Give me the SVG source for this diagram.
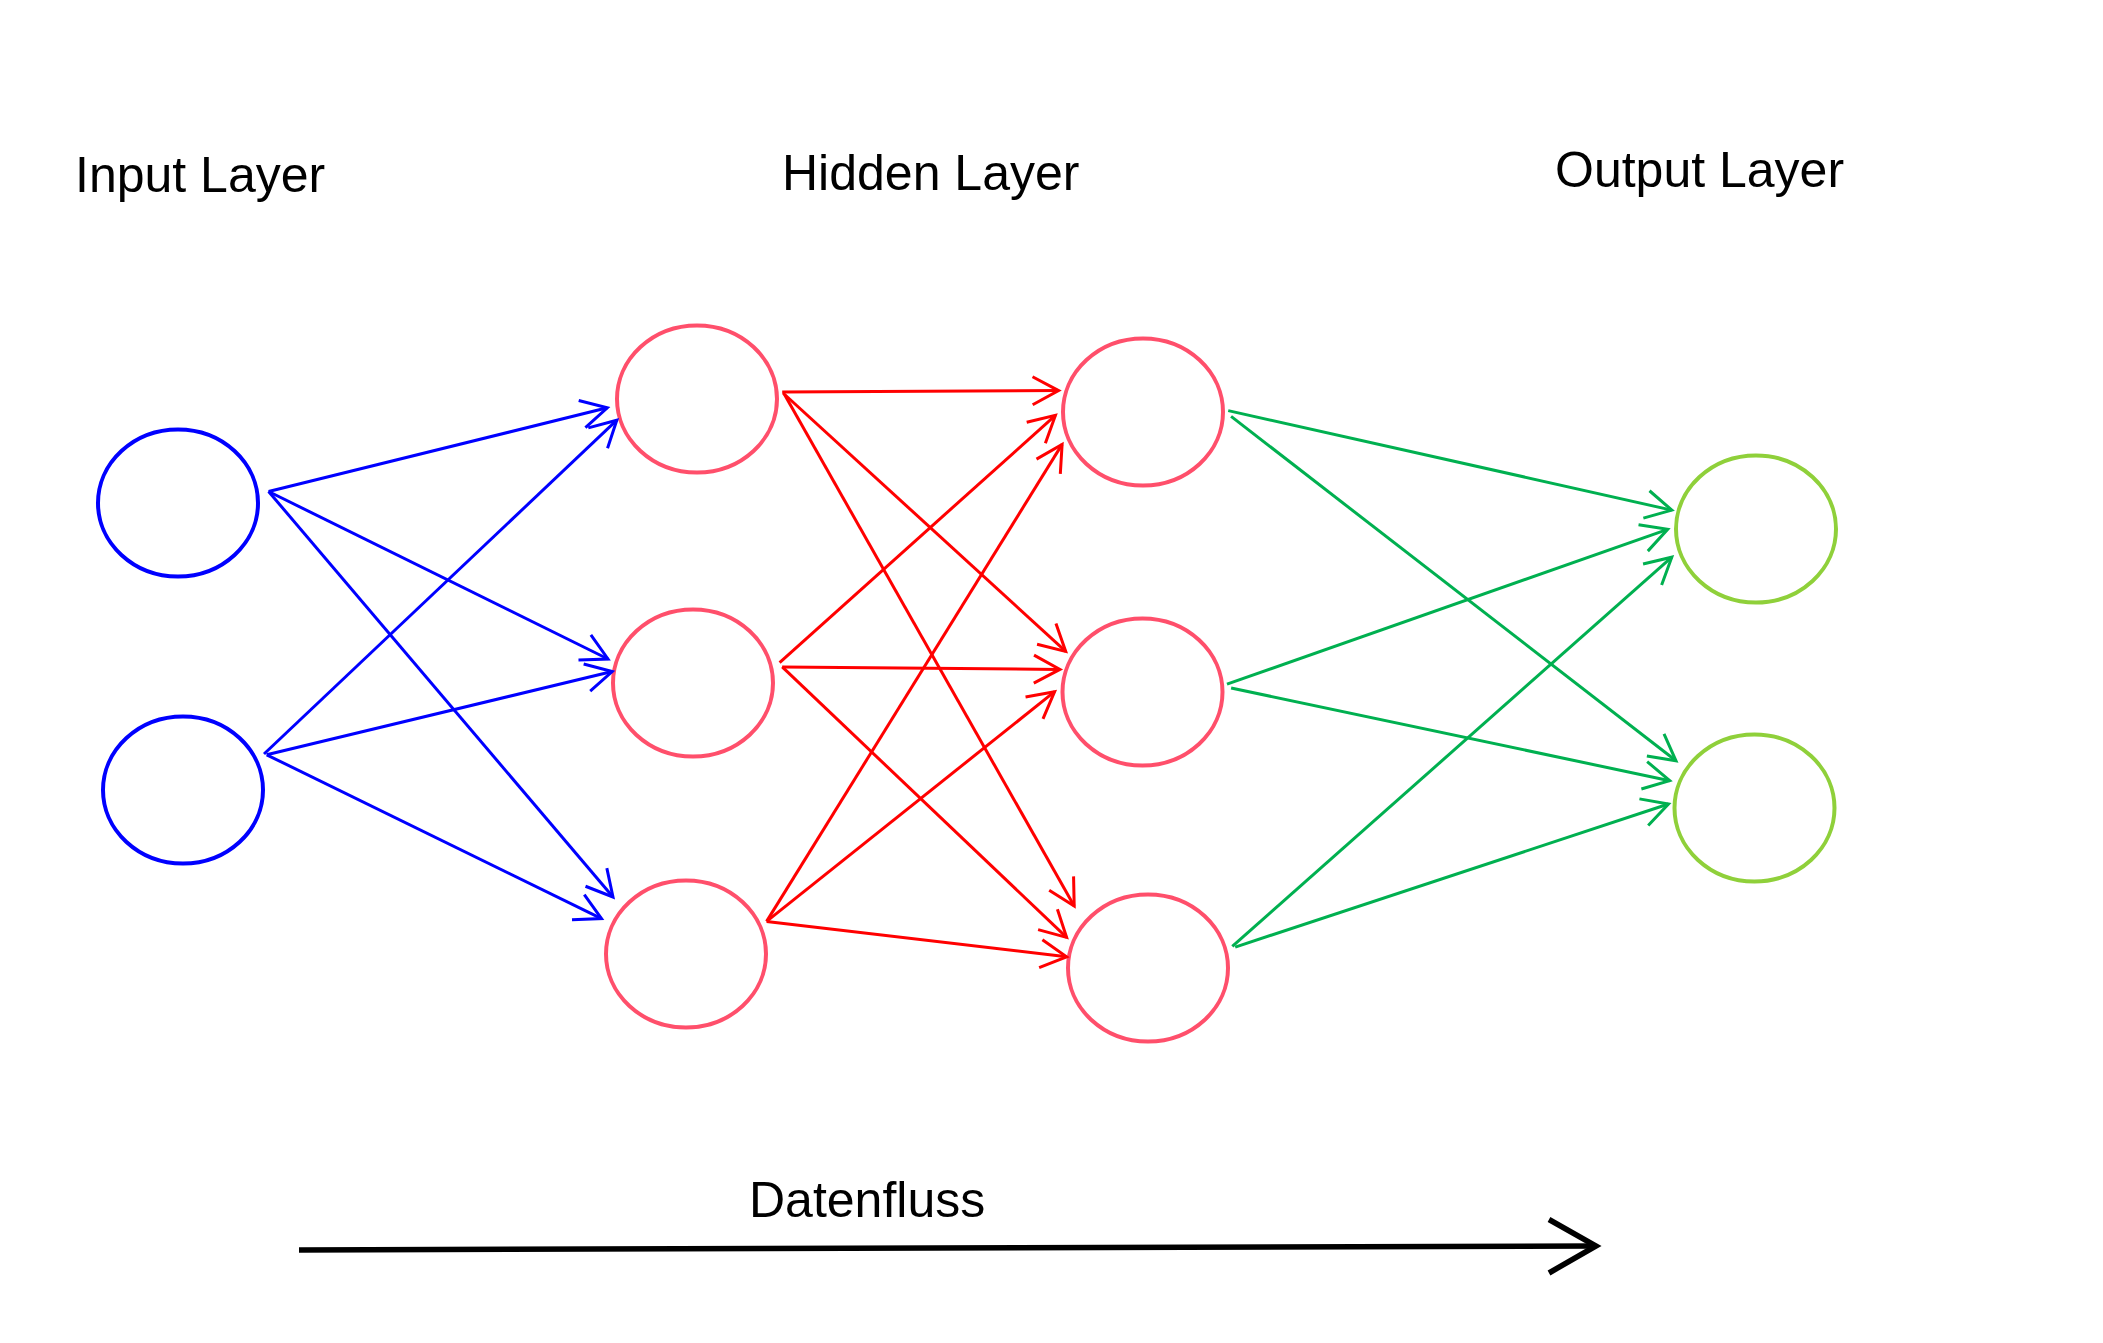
<svg xmlns="http://www.w3.org/2000/svg" width="2103" height="1343" viewBox="0 0 2103 1343">
  <style>
    .label { font-family: "Liberation Sans", Arial, sans-serif; font-size: 50px; fill: #000000; }
    .node { fill: none; stroke-width: 4; }
    .in { stroke: #0000FF; }
    .hid { stroke: #FF4F6B; }
    .out { stroke: #8FD03A; }
    .edge { fill: none; stroke-width: 3; }
    .blue { stroke: #0000FF; marker-end: url(#head-blue); }
    .red { stroke: #FF0000; marker-end: url(#head-red); }
    .green { stroke: #00B050; marker-end: url(#head-green); }
  </style>
  <defs>
    <marker id="head-blue" markerUnits="userSpaceOnUse" viewBox="-32 -20 40 40" markerWidth="40" markerHeight="40" refX="0" refY="0" orient="auto">
      <path d="M-26,-14 L0,0 L-26,14" fill="none" stroke="#0000FF" stroke-width="3"/>
    </marker>
    <marker id="head-red" markerUnits="userSpaceOnUse" viewBox="-32 -20 40 40" markerWidth="40" markerHeight="40" refX="0" refY="0" orient="auto">
      <path d="M-26,-14 L0,0 L-26,14" fill="none" stroke="#FF0000" stroke-width="3"/>
    </marker>
    <marker id="head-green" markerUnits="userSpaceOnUse" viewBox="-32 -20 40 40" markerWidth="40" markerHeight="40" refX="0" refY="0" orient="auto">
      <path d="M-26,-14 L0,0 L-26,14" fill="none" stroke="#00B050" stroke-width="3"/>
    </marker>
  </defs>

  <rect x="0" y="0" width="2103" height="1343" fill="#FFFFFF"/>

  <!-- layer titles -->
  <text class="label" x="75" y="192">Input Layer</text>
  <text class="label" x="782" y="189.5">Hidden Layer</text>
  <text class="label" x="1555" y="187">Output Layer</text>

  <!-- input layer -->
  <g id="input-1"><ellipse class="node in" cx="178" cy="503" rx="80" ry="73.5"/></g>
  <g id="input-2"><ellipse class="node in" cx="183" cy="790" rx="80" ry="73.5"/></g>

  <!-- hidden layer, first column -->
  <g id="hidden-1"><ellipse class="node hid" cx="697" cy="399" rx="80" ry="73.5"/></g>
  <g id="hidden-2"><ellipse class="node hid" cx="693" cy="683" rx="80" ry="73.5"/></g>
  <g id="hidden-3"><ellipse class="node hid" cx="686" cy="954" rx="80" ry="73.5"/></g>

  <!-- hidden layer, second column -->
  <g id="hidden-4"><ellipse class="node hid" cx="1143" cy="412" rx="80" ry="73.5"/></g>
  <g id="hidden-5"><ellipse class="node hid" cx="1142.5" cy="692" rx="80" ry="73.5"/></g>
  <g id="hidden-6"><ellipse class="node hid" cx="1148" cy="968" rx="80" ry="73.5"/></g>

  <!-- output layer -->
  <g id="output-1"><ellipse class="node out" cx="1756" cy="529" rx="80" ry="73.5"/></g>
  <g id="output-2"><ellipse class="node out" cx="1754.5" cy="808" rx="80" ry="73.5"/></g>

  <!-- connections -->
  <g id="connectors">
    <!-- input -> hidden column 1 -->
    <line class="edge blue" x1="268.6" y1="491.5" x2="607.3" y2="407.8"/>
    <line class="edge blue" x1="268.6" y1="491.5" x2="608" y2="659"/>
    <line class="edge blue" x1="268.6" y1="491.5" x2="613" y2="897"/>
    <line class="edge blue" x1="264" y1="754" x2="616.8" y2="420.2"/>
    <line class="edge blue" x1="266.7" y1="754.8" x2="612.2" y2="671.5"/>
    <line class="edge blue" x1="266.7" y1="754.8" x2="601.5" y2="918.6"/>

    <!-- hidden column 1 -> hidden column 2 -->
    <line class="edge red" x1="782.2" y1="392.1" x2="1058.6" y2="390.6"/>
    <line class="edge red" x1="783" y1="393" x2="1065.7" y2="651.4"/>
    <line class="edge red" x1="784.5" y1="394.5" x2="1074.2" y2="905.9"/>
    <line class="edge red" x1="779.6" y1="662.6" x2="1055.4" y2="415.4"/>
    <line class="edge red" x1="782.2" y1="666.9" x2="1059.9" y2="669.4"/>
    <line class="edge red" x1="782.2" y1="666.9" x2="1066.6" y2="937.4"/>
    <line class="edge red" x1="766.6" y1="921.4" x2="1062.1" y2="444.4"/>
    <line class="edge red" x1="766.6" y1="921.4" x2="1054.6" y2="691.7"/>
    <line class="edge red" x1="766.6" y1="921.4" x2="1066.6" y2="956.8"/>

    <!-- hidden column 2 -> output -->
    <line class="edge green" x1="1228.2" y1="410.6" x2="1671.8" y2="510.1"/>
    <line class="edge green" x1="1231.1" y1="416.4" x2="1676" y2="760.8"/>
    <line class="edge green" x1="1227" y1="684.2" x2="1667.7" y2="529.3"/>
    <line class="edge green" x1="1231.1" y1="688" x2="1669.7" y2="780.7"/>
    <line class="edge green" x1="1232.3" y1="946.4" x2="1671.8" y2="557.2"/>
    <line class="edge green" x1="1235.2" y1="947.1" x2="1668.5" y2="804"/>
  </g>

  <!-- data flow arrow -->
  <g id="dataflow">
    <text class="label" x="749" y="1217">Datenfluss</text>
    <path d="M299,1250 L1594,1246" fill="none" stroke="#000000" stroke-width="5.5"/>
    <path d="M1549,1219.5 L1596,1246 L1549,1273" fill="none" stroke="#000000" stroke-width="5.5"/>
  </g>
</svg>
